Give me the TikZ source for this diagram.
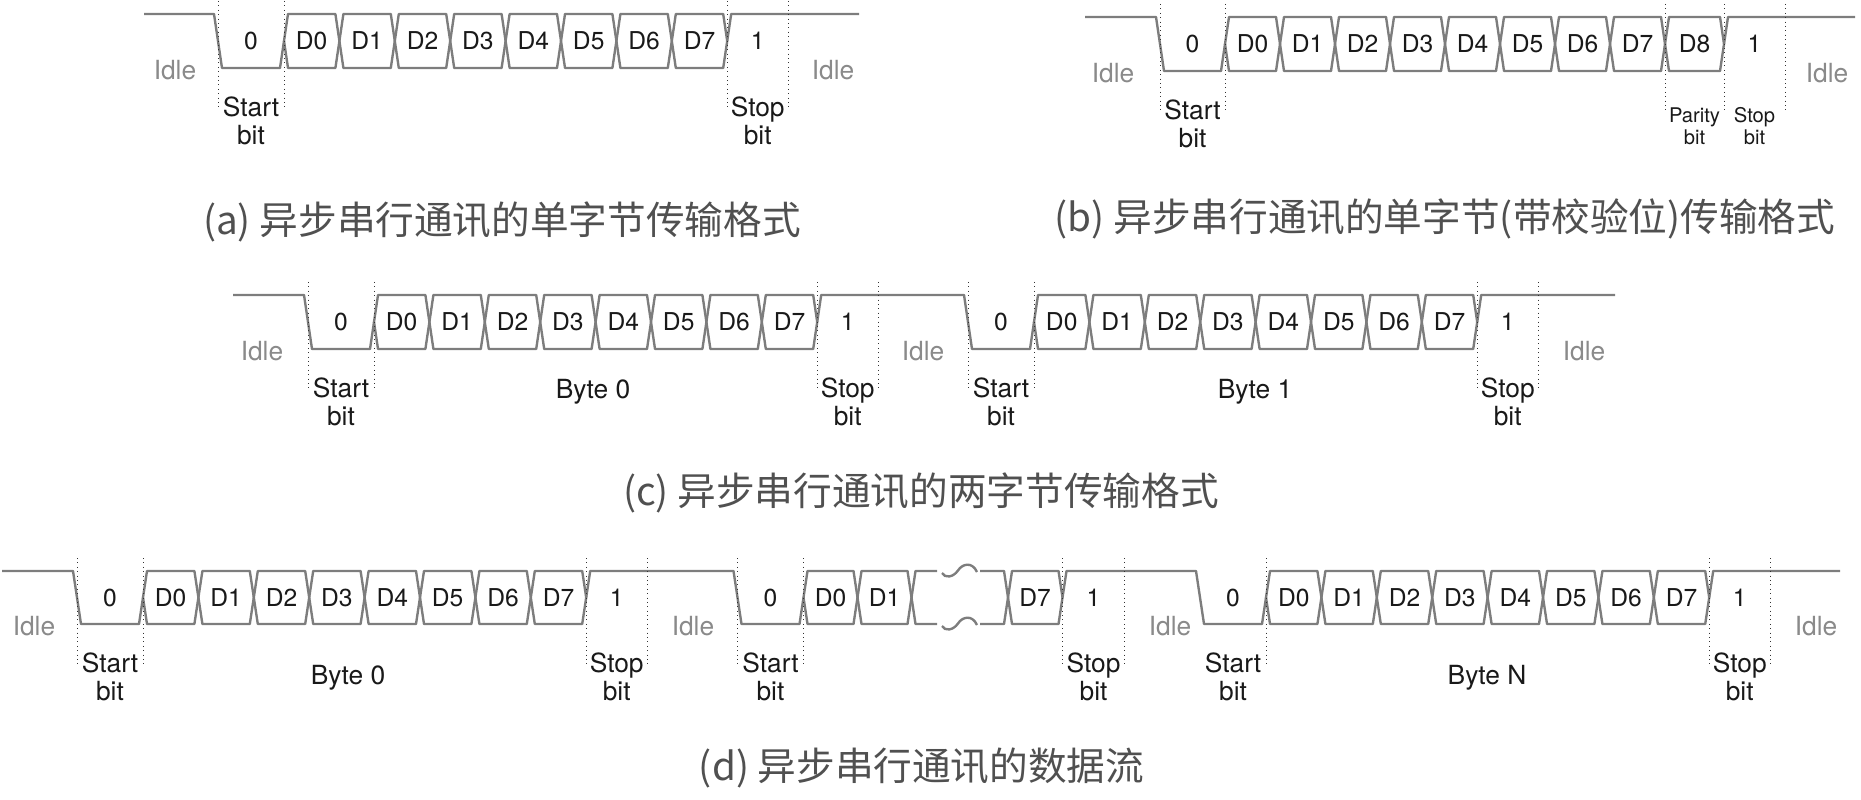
\documentclass[tikz,border=0pt]{standalone}
\usepackage{fontspec}
\setmainfont{TeX Gyre Heros}
\newfontfamily\cjkfont{Noto Sans CJK SC}
\usepackage{tikz}

\definecolor{wavegray}{RGB}{125,125,125}
\definecolor{idlegray}{RGB}{138,138,138}
\definecolor{capgray}{RGB}{80,80,80}

\begin{document}
\begin{tikzpicture}[x=0.02cm, y=-0.02cm,
  wave/.style={draw=wavegray, line width=1.35pt, line join=round},
  guide/.style={draw=black!80, dotted, line width=0.5pt},
  bitlbl/.style={inner sep=0pt, text=black!90, font=\fontsize{14}{15}\selectfont},
  idlelbl/.style={inner sep=0pt, text=idlegray, font=\fontsize{15}{16}\selectfont},
  fieldlbl/.style={inner sep=0pt, align=center, text=black!90, font=\fontsize{15}{16}\selectfont},
  smalllbl/.style={inner sep=0pt, align=center, text=black!90, font=\fontsize{11.5}{12.75}\selectfont},
  caption/.style={inner sep=0pt, text=capgray, font=\cjkfont\fontsize{22}{24}\selectfont}]
  \useasboundingbox (0,0) rectangle (1861,800);
  % \draw[step=100,thin,gray!40] (0,0) grid (1861,800);

  % (a) one byte
  \draw[wave] (144,14) -- (214,14) -- (222,68) -- (280,68) -- (284,41);
  \foreach \i in {0,...,7} {
    \pgfmathsetmacro{\xa}{284+55.4*\i}
    \pgfmathsetmacro{\xb}{\xa+55.4}
    \draw[wave] (\xa,41) -- (\xa+4,14) -- (\xb-4,14) -- (\xb,41) -- (\xb-4,68) -- (\xa+4,68) -- cycle;
    \node[bitlbl] (a-d\i) at ({(\xa+\xb)/2},41) {D\i};
  }
  \draw[wave] (727.2,41) -- (731.2,14) -- (859,14);
  \foreach \x in {218,284,727.2,788.2} \draw[guide] (\x,1) -- (\x,109);
  \node[bitlbl] (a-zero) at (251,41) {0};
  \node[bitlbl] (a-one) at (757.7,41) {1};
  \node[idlelbl] (a-idle1) at (175,70) {Idle};
  \node[idlelbl] (a-idle2) at (833,70) {Idle};
  \node[fieldlbl] (a-start) at (251,121) {Start\\bit};
  \node[fieldlbl] (a-stop) at (757.7,121) {Stop\\bit};
  \node[caption] (cap-a) at (502,222) {(a) 异步串行通讯的单字节传输格式};

  % (b) one byte with parity
  \draw[wave] (1085,17) -- (1156,17) -- (1164,71) -- (1221,71) -- (1225,44);
  \foreach \i in {0,...,7} {
    \pgfmathsetmacro{\xa}{1225+55*\i}
    \pgfmathsetmacro{\xb}{\xa+55}
    \draw[wave] (\xa,44) -- (\xa+4,17) -- (\xb-4,17) -- (\xb,44) -- (\xb-4,71) -- (\xa+4,71) -- cycle;
    \node[bitlbl] (b-d\i) at ({(\xa+\xb)/2},44) {D\i};
  }
  \draw[wave] (1665,44) -- (1669,17) -- (1720,17) -- (1724,44) -- (1720,71) -- (1669,71) -- cycle;
  \node[bitlbl] (b-d8) at (1694.5,44) {D8};
  \draw[wave] (1724,44) -- (1728,17) -- (1855,17);
  \foreach \x in {1160,1225,1665,1724,1785} \draw[guide] (\x,4) -- (\x,112);
  \node[bitlbl] (b-zero) at (1192.5,44) {0};
  \node[bitlbl] (b-one) at (1754.5,44) {1};
  \node[idlelbl] (b-idle1) at (1113,73) {Idle};
  \node[idlelbl] (b-idle2) at (1827,73) {Idle};
  \node[fieldlbl] (b-start) at (1192.5,124) {Start\\bit};
  \node[smalllbl] (b-parity) at (1694.5,126) {Parity\\bit};
  \node[smalllbl] (b-stop) at (1754.5,126) {Stop\\bit};
  \node[caption] (cap-b) at (1445,219) {(b) 异步串行通讯的单字节(带校验位)传输格式};

  % (c) two bytes
  \draw[wave] (233,295) -- (304,295) -- (312,349) -- (370,349) -- (374,322);
  \foreach \i in {0,...,7} {
    \pgfmathsetmacro{\xa}{374+55.4*\i}
    \pgfmathsetmacro{\xb}{\xa+55.4}
    \draw[wave] (\xa,322) -- (\xa+4,295) -- (\xb-4,295) -- (\xb,322) -- (\xb-4,349) -- (\xa+4,349) -- cycle;
    \node[bitlbl] (c-d\i) at ({(\xa+\xb)/2},322) {D\i};
  }
  \draw[wave] (817.2,322) -- (821.2,295) -- (964,295) -- (972,349) -- (1030,349) -- (1034,322);
  \foreach \i in {0,...,7} {
    \pgfmathsetmacro{\xa}{1034+55.4*\i}
    \pgfmathsetmacro{\xb}{\xa+55.4}
    \draw[wave] (\xa,322) -- (\xa+4,295) -- (\xb-4,295) -- (\xb,322) -- (\xb-4,349) -- (\xa+4,349) -- cycle;
    \node[bitlbl] (c-e\i) at ({(\xa+\xb)/2},322) {D\i};
  }
  \draw[wave] (1477.2,322) -- (1481.2,295) -- (1615,295);
  \foreach \x in {308,374,817.2,878.2,968,1034,1477.2,1538.2} \draw[guide] (\x,282) -- (\x,390);
  \node[bitlbl] (c-zero1) at (341,322) {0};
  \node[bitlbl] (c-one1) at (847.7,322) {1};
  \node[bitlbl] (c-zero2) at (1001,322) {0};
  \node[bitlbl] (c-one2) at (1507.7,322) {1};
  \node[idlelbl] (c-idle1) at (262,351) {Idle};
  \node[idlelbl] (c-idle2) at (923,351) {Idle};
  \node[idlelbl] (c-idle3) at (1584,351) {Idle};
  \node[fieldlbl] (c-start1) at (341,402) {Start\\bit};
  \node[fieldlbl] (c-stop1) at (847.7,402) {Stop\\bit};
  \node[fieldlbl] (c-start2) at (1001,402) {Start\\bit};
  \node[fieldlbl] (c-stop2) at (1507.7,402) {Stop\\bit};
  \node[fieldlbl] (c-byte0) at (593,392) {Byte 0};
  \node[fieldlbl] (c-byte1) at (1255,392) {Byte 1};
  \node[caption] (cap-c) at (921,493) {(c) 异步串行通讯的两字节传输格式};

  % (d) stream of bytes
  \draw[wave] (2,571) -- (73,571) -- (81,624) -- (139,624) -- (143,597.5);
  \foreach \i in {0,...,7} {
    \pgfmathsetmacro{\xa}{143+55.4*\i}
    \pgfmathsetmacro{\xb}{\xa+55.4}
    \draw[wave] (\xa,597.5) -- (\xa+4,571) -- (\xb-4,571) -- (\xb,597.5) -- (\xb-4,624) -- (\xa+4,624) -- cycle;
    \node[bitlbl] (d-d\i) at ({(\xa+\xb)/2},597.5) {D\i};
  }
  \draw[wave] (586.2,597.5) -- (590.2,571) -- (733.5,571) -- (741.5,624) -- (799.5,624) -- (803.5,597.5);
  \draw[wave] (803.5,597.5) -- (807.5,571) -- (853.5,571) -- (857.5,597.5) -- (853.5,624) -- (807.5,624) -- cycle;
  \draw[wave] (857.5,597.5) -- (861.5,571) -- (907.5,571) -- (911.5,597.5) -- (907.5,624) -- (861.5,624) -- cycle;
  \draw[wave] (937,571) -- (915.5,571) -- (911.5,597.5) -- (915.5,624) -- (937,624);
  \draw[wave] (980,571) -- (1004,571) -- (1008,597.5) -- (1004,624) -- (980,624);
  \draw[wave] (942,573) .. controls (945,578.5) and (953,577.5) .. (958,570.5) .. controls (962,564) and (972,561) .. (977,572);
  \draw[wave] (942,626) .. controls (945,631.5) and (953,630.5) .. (958,623.5) .. controls (962,617) and (972,614) .. (977,625);
  \draw[wave] (1008,597.5) -- (1012,571) -- (1058.5,571) -- (1062.5,597.5) -- (1058.5,624) -- (1012,624) -- cycle;
  \draw[wave] (1062.5,597.5) -- (1066.5,571) -- (1196,571) -- (1204,624) -- (1262,624) -- (1266,597.5);
  \foreach \i in {0,...,7} {
    \pgfmathsetmacro{\xa}{1266+55.4*\i}
    \pgfmathsetmacro{\xb}{\xa+55.4}
    \draw[wave] (\xa,597.5) -- (\xa+4,571) -- (\xb-4,571) -- (\xb,597.5) -- (\xb-4,624) -- (\xa+4,624) -- cycle;
    \node[bitlbl] (d-n\i) at ({(\xa+\xb)/2},597.5) {D\i};
  }
  \draw[wave] (1709.2,597.5) -- (1713.2,571) -- (1840,571);
  \foreach \x in {77,143,586.2,647.2,737.5,803.5,1062.5,1124.5,1266,1709.2,1770.2} \draw[guide] (\x,558) -- (\x,664);
  \node[bitlbl] (d-zero1) at (110,597.5) {0};
  \node[bitlbl] (d-one1) at (616.7,597.5) {1};
  \node[bitlbl] (d-zero2) at (770.5,597.5) {0};
  \node[bitlbl] (d-m0) at (830.5,597.5) {D0};
  \node[bitlbl] (d-m1) at (884.5,597.5) {D1};
  \node[bitlbl] (d-m7) at (1035,597.5) {D7};
  \node[bitlbl] (d-one2) at (1093.5,597.5) {1};
  \node[bitlbl] (d-zero3) at (1233,597.5) {0};
  \node[bitlbl] (d-one3) at (1739.7,597.5) {1};
  \node[idlelbl] (d-idle1) at (34,626) {Idle};
  \node[idlelbl] (d-idle2) at (693,626) {Idle};
  \node[idlelbl] (d-idle3) at (1170,626) {Idle};
  \node[idlelbl] (d-idle4) at (1816,626) {Idle};
  \node[fieldlbl] (d-start1) at (110,677) {Start\\bit};
  \node[fieldlbl] (d-stop1) at (616.7,677) {Stop\\bit};
  \node[fieldlbl] (d-start2) at (770.5,677) {Start\\bit};
  \node[fieldlbl] (d-stop2) at (1093.5,677) {Stop\\bit};
  \node[fieldlbl] (d-start3) at (1233,677) {Start\\bit};
  \node[fieldlbl] (d-stop3) at (1739.7,677) {Stop\\bit};
  \node[fieldlbl] (d-byte0) at (348,678) {Byte 0};
  \node[fieldlbl] (d-byten) at (1487,678) {Byte N};
  \node[caption] (cap-d) at (921.6,768) {(d) 异步串行通讯的数据流};

\end{tikzpicture}
\end{document}
